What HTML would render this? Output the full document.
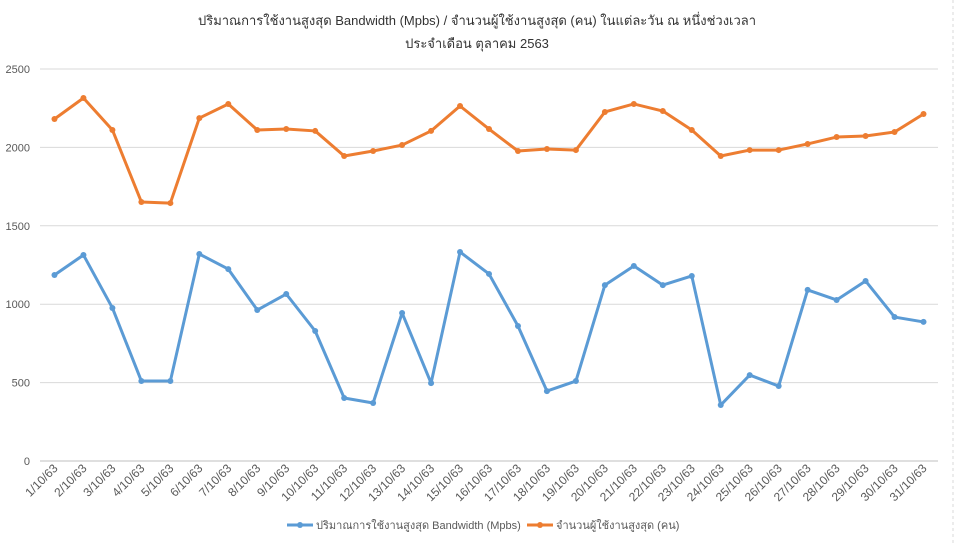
<!DOCTYPE html>
<html><head><meta charset="utf-8"><style>
body{margin:0;background:#fff;font-family:"Liberation Sans","DejaVu Sans",sans-serif;}
svg text{font-family:"Liberation Sans","DejaVu Sans",sans-serif;fill:#595959;}
</style></head><body>
<svg id="chart" width="955" height="543" xmlns="http://www.w3.org/2000/svg">
<rect x="0" y="0" width="955" height="543" fill="#fff"/>
<line x1="953" y1="0" x2="953" y2="543" stroke="#d9d9d9" stroke-dasharray="3,3"/>
<text x="477" y="25" text-anchor="middle" font-size="13" style="fill:#333">ปริมาณการใช้งานสูงสุด Bandwidth (Mpbs) / จำนวนผู้ใช้งานสูงสุด (คน) ในแต่ละวัน ณ หนึ่งช่วงเวลา</text>
<text x="477" y="48" text-anchor="middle" font-size="13" style="fill:#333">ประจำเดือน ตุลาคม 2563</text>
<g id="grid"></g><g id="xlabels"></g><g id="series"></g>
<g>
<line x1="287" y1="525" x2="313" y2="525" stroke="#5b9bd5" stroke-width="3"/><circle cx="300" cy="525" r="3" fill="#5b9bd5"/>
<text x="316" y="529" font-size="11">ปริมาณการใช้งานสูงสุด Bandwidth (Mpbs)</text>
<line x1="527" y1="525" x2="553" y2="525" stroke="#ed7d31" stroke-width="3"/><circle cx="540" cy="525" r="3" fill="#ed7d31"/>
<text x="556" y="529" font-size="11">จำนวนผู้ใช้งานสูงสุด (คน)</text>
</g>
</svg>
<script>
const categories=[];for(let d=1;d<=31;d++)categories.push(d+"/10/63");
const usersValues=[2181,2315,2111,1652,1645,2187,2277,2111,2117,2105,1945,1977,2015,2105,2264,2117,1977,1990,1983,2226,2277,2232,2111,1945,1983,1983,2022,2066,2073,2098,2213];
const bandwidthValues=[1186,1314,976,510,510,1320,1224,963,1065,829,402,370,944,497,1333,1193,861,446,510,1122,1244,1122,1180,357,548,478,1091,1027,1148,918,887];
const yTicks=[0,500,1000,1500,2000,2500];
const NS="http://www.w3.org/2000/svg";
const y0=461,y1=69,yMax=2500,xL=40,xR=938;
const step=(xR-xL)/categories.length;
const y=v=>y0-(v/yMax)*(y0-y1);
const x=i=>xL+step*(i+0.5);
function mk(t,a,p){const e=document.createElementNS(NS,t);for(const k in a)e.setAttribute(k,a[k]);p.appendChild(e);return e;}
const g=document.getElementById('grid');
yTicks.forEach(t=>{
 const l=mk('line',{x1:xL,x2:xR,y1:y(t),y2:y(t),stroke:t===0?'#bfbfbf':'#d9d9d9'},g);
 
 
 const tx=mk('text',{x:30,y:y(t)+4,'text-anchor':'end','font-size':'11'},g);
 tx.textContent=t;
 
 
});
const xl=document.getElementById('xlabels');
categories.forEach((c,i)=>{
 const px=x(i)+4,py=y0+8;
 const t=mk('text',{x:px,y:py,'text-anchor':'end','font-size':'12',transform:`rotate(-45 ${px} ${py})`},xl);
 t.textContent=c;
 
 
});
const s=document.getElementById('series');
function draw(vals,color,name){
 const p=mk('polyline',{points:vals.map((v,i)=>x(i)+','+y(v)).join(' '),fill:'none',stroke:color,'stroke-width':3,'stroke-linejoin':'round'},s);
 
 
 vals.forEach((v,i)=>{
  const c=mk('circle',{cx:x(i),cy:y(v),r:3,fill:color},s);
  
  
 });
}
draw(bandwidthValues,'#5b9bd5','bandwidth');
draw(usersValues,'#ed7d31','users');
</script>
</body></html>
